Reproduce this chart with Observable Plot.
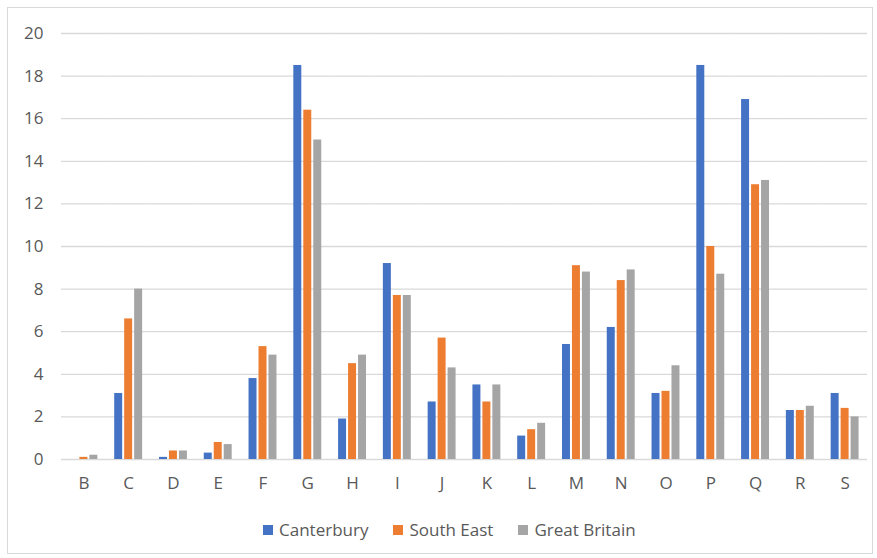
<!DOCTYPE html>
<html>
<head>
<meta charset="utf-8">
<script src="https://cdn.jsdelivr.net/npm/d3@7"></script>
<script src="https://cdn.jsdelivr.net/npm/@observablehq/plot@0.6"></script>
<style>
  html, body { margin: 0; padding: 0; background: #fff; }
  #wrap { position: relative; width: 877px; height: 558px; overflow: hidden; font-family: "Open Sans", sans-serif; }
  #frame { position: absolute; left: 7px; top: 7px; width: 866px; height: 547px; border: 1px solid #d9d9d9; box-sizing: border-box; }
  #chart { position: absolute; left: 0; top: 0; }
  #legend { position: absolute; left: 263px; top: 518px; display: flex; gap: 25px; font-size: 17px; color: #595959; }
  .item { display: flex; align-items: center; gap: 6px; }
  .sw { width: 10px; height: 10px; display: inline-block; }
</style>
</head>
<body>
<div id="wrap">
  <div id="frame"></div>
  <div id="chart"></div>
  <div id="legend"></div>
</div>
<script>
const categories = ["B","C","D","E","F","G","H","I","J","K","L","M","N","O","P","Q","R","S"];
const canterbury   = [0.0, 3.1, 0.1, 0.3, 3.8, 18.5, 1.9, 9.2, 2.7, 3.5, 1.1, 5.4, 6.2, 3.1, 18.5, 16.9, 2.3, 3.1];
const southEast    = [0.1, 6.6, 0.4, 0.8, 5.3, 16.4, 4.5, 7.7, 5.7, 2.7, 1.4, 9.1, 8.4, 3.2, 10.0, 12.9, 2.3, 2.4];
const greatBritain = [0.2, 8.0, 0.4, 0.7, 4.9, 15.0, 4.9, 7.7, 4.3, 3.5, 1.7, 8.8, 8.9, 4.4, 8.7, 13.1, 2.5, 2.0];
const seriesNames = ["Canterbury", "South East", "Great Britain"];
const seriesColors = ["#4472C4", "#ED7D31", "#A5A5A5"];
const yTicks = [0, 2, 4, 6, 8, 10, 12, 14, 16, 18, 20];

const seriesValues = [canterbury, southEast, greatBritain];
const data = [];
categories.forEach((c, i) => {
  seriesNames.forEach((s, j) => data.push({category: c, series: s, value: seriesValues[j][i]}));
});

const chart = Plot.plot({
  width: 877,
  height: 500,
  marginLeft: 61,
  marginRight: 10,
  marginTop: 33,
  marginBottom: 41,
  style: {fontFamily: "Open Sans, sans-serif", fontSize: "17px", color: "#595959", background: "transparent"},
  fx: {domain: categories, padding: 0, round: false, label: null},
  x: {domain: seriesNames, paddingInner: 0.2, paddingOuter: 0.845, round: false, axis: null},
  y: {domain: [0, 20], label: null},
  color: {domain: seriesNames, range: seriesColors},
  marks: [
    Plot.gridY({ticks: yTicks, stroke: "#d9d9d9", strokeOpacity: 1, strokeWidth: 1.3}),
    Plot.axisY({ticks: yTicks, tickSize: 0, tickPadding: 18, label: null, fill: "#595959", fontSize: 17}),
    Plot.axisFx({anchor: "bottom", tickSize: 0, tickPadding: 17, label: null, fill: "#595959", fontSize: 17}),
    Plot.barY(data, {fx: "category", x: "series", y: "value", fill: "series"})
  ]
});
document.getElementById("chart").appendChild(chart);

const legend = document.getElementById("legend");
seriesNames.forEach((s, j) => {
  const it = document.createElement("div");
  it.className = "item";
  const sw = document.createElement("span");
  sw.className = "sw";
  sw.style.background = seriesColors[j];
  const t = document.createElement("span");
  t.textContent = s;
  it.appendChild(sw); it.appendChild(t);
  legend.appendChild(it);
});
</script>
</body>
</html>
